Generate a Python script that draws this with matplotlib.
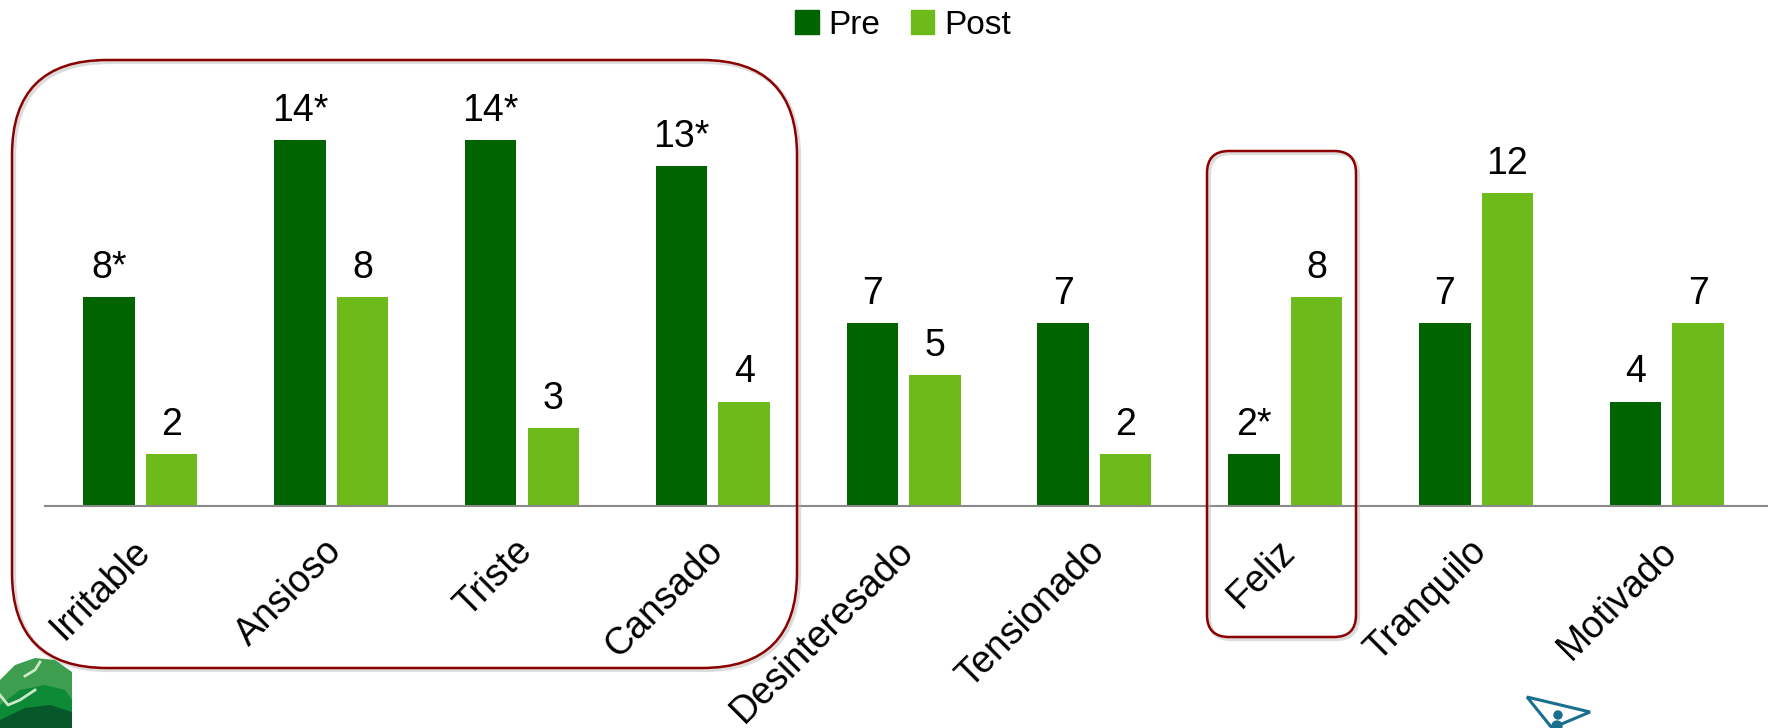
import numpy as np
import matplotlib
matplotlib.use("Agg")
import matplotlib.pyplot as plt
from matplotlib.patches import FancyBboxPatch, Patch, Polygon, Circle, Ellipse
from matplotlib.transforms import offset_copy

plt.rcParams['font.family'] = ['Liberation Sans', 'DejaVu Sans']

# datos
categorias = ['Irritable', 'Ansioso', 'Triste', 'Cansado', 'Desinteresado',
              'Tensionado', 'Feliz', 'Tranquilo', 'Motivado']
pre = [8, 14, 14, 13, 7, 7, 2, 7, 4]
post = [2, 8, 3, 4, 5, 2, 8, 12, 7]
pre_etiquetas = ['8*', '14*', '14*', '13*', '7', '7', '2*', '7', '4']
post_etiquetas = ['2', '8', '3', '4', '5', '2', '8', '12', '7']

color_pre = '#006400'
color_post = '#6DBB1A'
W, H = 1768, 728

fig = plt.figure(figsize=(W / 100, H / 100), dpi=100)
ax = fig.add_axes([45 / W, (H - 506) / H, (W - 45) / W, 418 / H])

x = np.arange(len(categorias))
ancho = 0.27
off = 0.164
b1 = ax.bar(x - off, pre, ancho, color=color_pre)
b2 = ax.bar(x + off, post, ancho, color=color_post)

for barras, etiquetas in ((b1, pre_etiquetas), (b2, post_etiquetas)):
    for b, t in zip(barras, etiquetas):
        ax.annotate(t, (b.get_x() + b.get_width() / 2, b.get_height()),
                    xytext=(0, 19), textcoords='offset pixels',
                    ha='center', va='baseline', fontsize=27)

ax.set_xlim(-0.5, 8.53)
ax.set_ylim(0, 16)
for s in ['top', 'right', 'left']:
    ax.spines[s].set_visible(False)
ax.spines['bottom'].set_color('#8a8a8a')
ax.spines['bottom'].set_linewidth(1.5)
ax.set_xticks([])
ax.set_yticks([])

trans = offset_copy(ax.get_xaxis_transform(), fig=fig, x=-8, y=-27, units='dots')
for i, c in enumerate(categorias):
    ax.text(i, 0, c, transform=trans, rotation=45, rotation_mode='anchor',
            ha='right', va='top', fontsize=27)

fig.legend(handles=[Patch(color=color_pre, label='Pre'), Patch(color=color_post, label='Post')],
           loc='center', bbox_to_anchor=(903 / W, 1 - 25 / H), ncol=2, frameon=False,
           fontsize=24, handlelength=0.7, handleheight=0.7, handletextpad=0.3,
           columnspacing=0.9)

# capa de decoracion en pixeles
ov = fig.add_axes([0, 0, 1, 1], zorder=5)
ov.set_xlim(0, W)
ov.set_ylim(H, 0)
ov.axis('off')
ov.patch.set_alpha(0)

for (x0, y0, x1, y1, r) in [(12, 60, 797, 668, 95), (1207, 151, 1356, 637, 22)]:
    sombra = FancyBboxPatch((x0 + r + 2, y0 + r + 2), x1 - x0 - 2 * r, y1 - y0 - 2 * r,
                            boxstyle=f'round,pad={r}', fill=False, ec='#bbbbbb', lw=3, alpha=0.5)
    ov.add_patch(sombra)
    p = FancyBboxPatch((x0 + r, y0 + r), x1 - x0 - 2 * r, y1 - y0 - 2 * r,
                       boxstyle=f'round,pad={r}', fill=False, ec='#8B0000', lw=1.8)
    ov.add_patch(p)

# logo verde (esquina inferior izquierda)
ov.add_patch(Polygon([[0, 680], [15, 665], [35, 658], [55, 660], [72, 672], [72, 728], [0, 728]],
                     closed=True, color='#3d9e4f', lw=0))
ov.add_patch(Polygon([[0, 705], [20, 690], [45, 685], [65, 690], [72, 700], [72, 728], [0, 728]],
                     closed=True, color='#0d8a35', lw=0))
ov.add_patch(Polygon([[0, 720], [25, 708], [50, 705], [72, 712], [72, 728], [0, 728]],
                     closed=True, color='#08572a', lw=0))
ov.plot([0, 8, 20, 35], [695, 705, 700, 690], color='#cde8c8', lw=2)
ov.plot([25, 35, 40], [676, 670, 662], color='#cde8c8', lw=2)

# logo azul (esquina inferior derecha)
ov.add_patch(Polygon([[1527, 697], [1590, 712], [1552, 728]], closed=True,
                     fill=False, ec='#1a6f8f', lw=2.2))
ov.add_patch(Circle((1558, 715), 4, color='#1a6f8f'))
ov.add_patch(Ellipse((1557, 726), 10, 10, color='#1a6f8f'))

fig.savefig('out.png', dpi=100, facecolor='white')
